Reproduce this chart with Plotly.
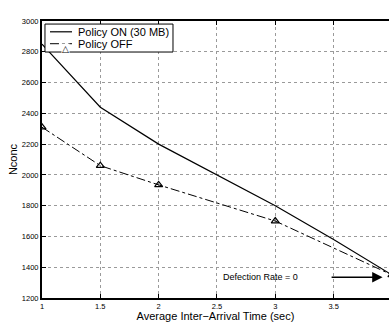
import plotly.graph_objects as go

x_on = [1, 1.5, 2, 3, 3.5, 4]
y_on = [2850, 2440, 2200, 1800, 1580, 1350]
x_off = [1, 1.5, 2, 3, 4]
y_off = [2310, 2060, 1935, 1700, 1350]

x_ticks = [1, 1.5, 2, 2.5, 3, 3.5]
x_tick_labels = ["1", "1.5", "2", "2.5", "3", "3.5"]
y_ticks = [1200, 1400, 1600, 1800, 2000, 2200, 2400, 2600, 2800, 3000]
legend_names = ["Policy ON (30 MB)", "Policy OFF"]

FONT = "Liberation Sans, Arial, Helvetica, sans-serif"

fig = go.Figure()
fig.add_trace(go.Scatter(x=x_on, y=y_on, mode="lines", name=legend_names[0], showlegend=False,
                         line=dict(color="black", width=1.2)))
fig.add_trace(go.Scatter(x=x_off, y=y_off, mode="lines+markers", name=legend_names[1],
                         showlegend=False,
                         line=dict(color="black", width=1, dash="dashdot"),
                         marker=dict(symbol="triangle-up-open", size=7, color="black",
                                     line=dict(width=1.2, color="black"))))

# annotation
fig.add_annotation(x=2.87, y=1335, text="Defection Rate = 0", showarrow=False,
                   font=dict(size=9, color="black", family=FONT))
fig.add_annotation(x=3.92, y=1335, ax=3.47, ay=1335, xref="x", yref="y", axref="x", ayref="y",
                   text="", showarrow=True, arrowhead=2, arrowsize=1.3, arrowwidth=1.6,
                   arrowcolor="black")

# manual legend (paper coords)
fig.add_shape(type="rect", xref="paper", yref="paper", x0=0.0086, x1=0.3775, y0=0.888, y1=0.989,
              line=dict(color="black", width=1), fillcolor="white", layer="above")
rows = [0.961, 0.918]
fig.add_shape(type="line", xref="paper", yref="paper", x0=0.023, x1=0.0865, y0=rows[0], y1=rows[0],
              line=dict(color="black", width=1.2), layer="above")
fig.add_shape(type="line", xref="paper", yref="paper", x0=0.023, x1=0.0865, y0=rows[1], y1=rows[1],
              line=dict(color="black", width=1, dash="dashdot"), layer="above")
fig.add_annotation(xref="paper", yref="paper", x=0.0548, y=rows[1] + 0.004, text="<b>\u25b3</b>",
                   showarrow=False, font=dict(size=9, color="black", family="DejaVu Sans"),
                   bgcolor="white", borderpad=0)
for r, name in zip(rows, legend_names):
    fig.add_annotation(xref="paper", yref="paper", x=0.099, y=r, text=name, xanchor="left",
                       yanchor="middle", showarrow=False,
                       font=dict(size=11, color="black", family=FONT))

axis_common = dict(showline=True, linecolor="black", linewidth=2, ticks="inside", ticklen=4,
                   tickcolor="black", showgrid=True, gridcolor="#9a9a9a", griddash="dot",
                   gridwidth=1, zeroline=False,
                   tickfont=dict(size=7.5, color="black", family=FONT))

fig.update_xaxes(range=[1, 3.975], tickvals=x_ticks, ticktext=x_tick_labels, mirror="ticks",
                 title=dict(text="Average Inter\u2212Arrival Time (sec)", standoff=2,
                            font=dict(size=11, color="black", family=FONT)),
                 **axis_common)
fig.update_yaxes(range=[1200, 3000], tickvals=y_ticks, mirror=False,
                 title=dict(text="Nconc", standoff=2,
                            font=dict(size=11, color="black", family=FONT)),
                 **axis_common)

fig.update_layout(width=389, height=322, margin=dict(l=42, r=0, t=21, b=24),
                  plot_bgcolor="white", paper_bgcolor="white",
                  font=dict(family=FONT, color="black"), showlegend=False)

fig.write_html("out.html")
